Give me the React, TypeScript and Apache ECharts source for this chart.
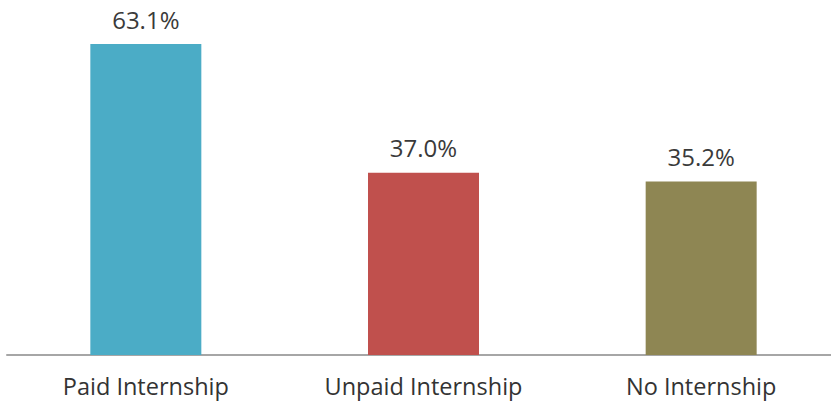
import React, { useEffect, useRef } from "react";
import * as echarts from "echarts";

const categories = ["Paid Internship", "Unpaid Internship", "No Internship"];
const values = [63.1, 37.0, 35.2];
const colors = ["#4BACC6", "#C0504D", "#8E8653"];

export default function App() {
  const ref = useRef<HTMLDivElement>(null);
  useEffect(() => {
    if (!ref.current) return;
    const chart = echarts.init(ref.current, null, { renderer: "svg" });
    chart.setOption({
      animation: false,
      grid: {
        left: 7,
        width: 833,
        top: 10,
        bottom: 46,
        containLabel: false,
        outerBoundsMode: "none",
      },
      xAxis: {
        type: "category",
        data: categories,
        axisTick: { show: false },
        axisLine: { lineStyle: { color: "#A6A6A6", width: 2 } },
        axisLabel: {
          color: "#333333",
          fontFamily: "Open Sans",
          fontSize: 23.5,
          margin: 19,
        },
      },
      yAxis: {
        type: "value",
        min: 0,
        max: 70,
        show: false,
        splitLine: { show: false },
      },
      series: [
        {
          type: "bar",
          barWidth: 111,
          data: values.map((v, i) => ({ value: v, itemStyle: { color: colors[i] } })),
          label: {
            show: true,
            position: "top",
            distance: 13,
            color: "#3A3A3A",
            fontFamily: "Open Sans",
            fontSize: 24,
            formatter: (p: any) => p.value.toFixed(1) + "%",
          },
        },
      ],
    });
    return () => chart.dispose();
  }, []);
  return <div ref={ref} style={{ width: 831, height: 401, position: "absolute", left: 0, top: 0 }} />;
}
